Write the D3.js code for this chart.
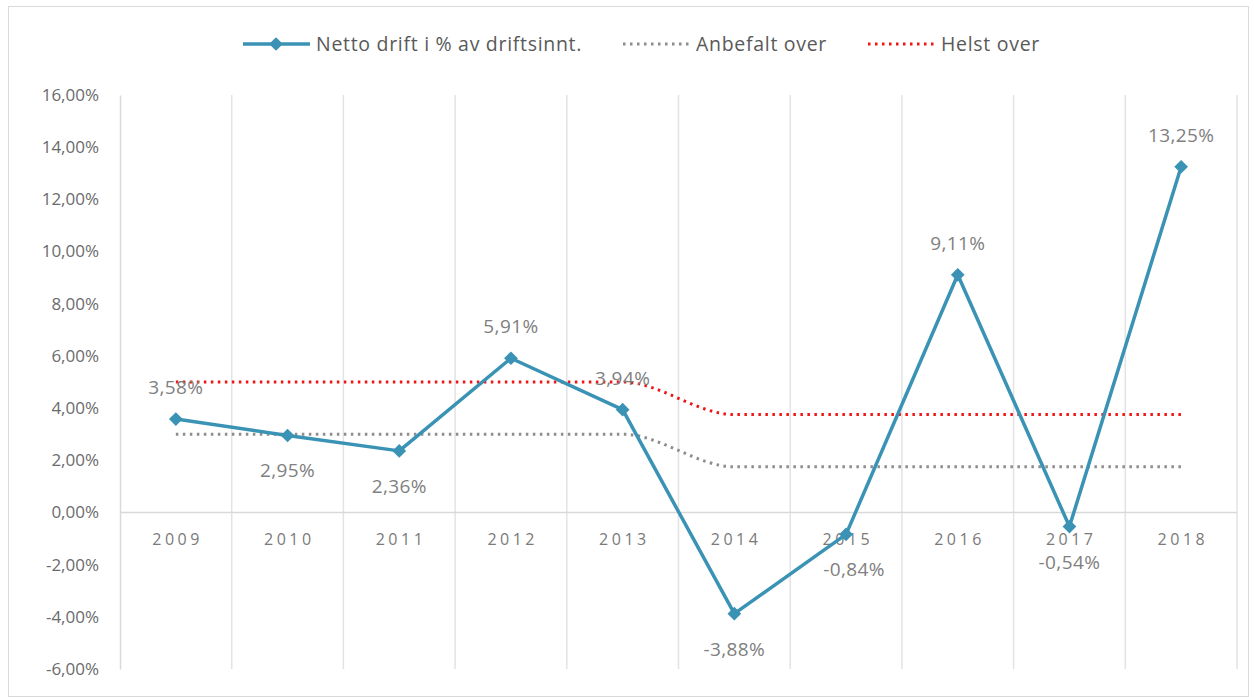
<!DOCTYPE html>
<html lang="no">
<head>
  <meta charset="UTF-8">
  <title>Netto drift</title>
  <script src="https://d3js.org/d3.v7.min.js"></script>
  <style>
    body { margin: 0; background: #fff; font-family: "Open Sans", sans-serif; }
    .tick-label { fill: #6b6b6b; font-size: 17px; font-family: "Open Sans", sans-serif; }
    .x-label { fill: #7a7a7a; font-size: 16px; letter-spacing: 3.5px; }
    .data-label { fill: #808080; font-size: 19px; letter-spacing: 0.4px; text-anchor: middle; }
    .legend-text { fill: #595959; font-size: 19.5px; letter-spacing: 0.7px; }
  </style>
</head>
<body>
  <svg id="chart" width="1254" height="697"></svg>
  <script>
    const years = ["2009", "2010", "2011", "2012", "2013", "2014", "2015", "2016", "2017", "2018"];
    const netto = [3.58, 2.95, 2.36, 5.91, 3.94, -3.88, -0.84, 9.11, -0.54, 13.25];
    const anbefalt = [3, 3, 3, 3, 3, 1.75, 1.75, 1.75, 1.75, 1.75];
    const helst = [5, 5, 5, 5, 5, 3.75, 3.75, 3.75, 3.75, 3.75];
    const labelSide = ["above", "below", "below", "above", "above", "below", "below", "above", "below", "above"];
    const yTicks = [16, 14, 12, 10, 8, 6, 4, 2, 0, -2, -4, -6];
    const legendNames = ["Netto drift i % av driftsinnt.", "Anbefalt over", "Helst over"];

    const fmt = v => v.toFixed(2).replace(".", ",") + "%";

    const svg = d3.select("#chart");
    const margin = { left: 120, right: 1237, top: 95, bottom: 669 };

    // chart border
    svg.append("rect")
      .attr("x", 8.5).attr("y", 6.5)
      .attr("width", 1240).attr("height", 690)
      .attr("fill", "none").attr("stroke", "#d9d9d9");

    const x = d3.scaleBand().domain(years).range([margin.left, margin.right]);
    const y = d3.scaleLinear().domain([-6, 16]).range([margin.bottom, margin.top]);
    const cx = d => x(d) + x.bandwidth() / 2;

    // vertical gridlines between categories
    svg.append("g").selectAll("line")
      .data(years)
      .enter().append("line")
      .attr("x1", d => x(d) + x.bandwidth())
      .attr("x2", d => x(d) + x.bandwidth())
      .attr("y1", margin.top).attr("y2", margin.bottom)
      .attr("stroke", "#e3e3e3").attr("stroke-width", 1.5);

    // y axis
    const yAxis = svg.append("g")
      .attr("transform", `translate(${margin.left},0)`)
      .call(d3.axisLeft(y).tickValues(yTicks).tickSize(0).tickPadding(21).tickFormat(fmt))
      .attr("font-family", null).attr("font-size", null);
    yAxis.select(".domain").attr("stroke", "#d9d9d9").attr("stroke-width", 1.5);
    yAxis.selectAll("text").attr("class", "tick-label");

    // zero line
    svg.append("line")
      .attr("x1", margin.left).attr("x2", margin.right)
      .attr("y1", y(0)).attr("y2", y(0))
      .attr("stroke", "#d9d9d9").attr("stroke-width", 1.5);

    // x labels
    svg.append("g").selectAll("text")
      .data(years).enter().append("text")
      .attr("class", "x-label")
      .attr("x", d => cx(d) + 1.75).attr("y", y(0) + 33)
      .attr("text-anchor", "middle")
      .text(d => d);

    const smooth = d3.line()
      .x((d, i) => cx(years[i]))
      .y(d => y(d))
      .curve(d3.curveMonotoneX);

    svg.append("path")
      .datum(anbefalt)
      .attr("d", smooth)
      .attr("fill", "none").attr("stroke", "#8c8c8c")
      .attr("stroke-width", 3).attr("stroke-dasharray", "2.5 4.5");

    svg.append("path")
      .datum(helst)
      .attr("d", smooth)
      .attr("fill", "none").attr("stroke", "#f01414")
      .attr("stroke-width", 3).attr("stroke-dasharray", "2.5 4.5");

    const blue = "#3a93b5";
    const straight = d3.line().x((d, i) => cx(years[i])).y(d => y(d));
    svg.append("path")
      .datum(netto)
      .attr("d", straight)
      .attr("fill", "none").attr("stroke", blue)
      .attr("stroke-width", 3.5).attr("stroke-linejoin", "round");

    const diamond = d3.symbol().type(d3.symbolDiamond2).size(120);
    svg.append("g").selectAll("path")
      .data(netto).enter().append("path")
      .attr("d", diamond)
      .attr("transform", (d, i) => `translate(${cx(years[i])},${y(d)})`)
      .attr("fill", blue);

    // data labels
    svg.append("g").selectAll("text")
      .data(netto).enter().append("text")
      .attr("class", "data-label")
      .attr("x", (d, i) => cx(years[i]) + (years[i] === "2015" ? 8 : 0))
      .attr("y", (d, i) => y(d) + (labelSide[i] === "above" ? -25 : 42))
      .text(fmt);

    // legend
    const legend = svg.append("g");
    const lx = [243, 623, 868];
    const legendStyle = [
      { stroke: blue, dash: null, w: 3.5 },
      { stroke: "#8c8c8c", dash: "2.5 4.5", w: 3 },
      { stroke: "#f01414", dash: "2.5 4.5", w: 3 }
    ];
    legendNames.forEach((name, i) => {
      const s = legendStyle[i];
      legend.append("line")
        .attr("x1", lx[i]).attr("x2", lx[i] + 67)
        .attr("y1", 44).attr("y2", 44)
        .attr("stroke", s.stroke).attr("stroke-width", s.w)
        .attr("stroke-dasharray", s.dash);
      if (i === 0) {
        legend.append("path")
          .attr("d", diamond)
          .attr("transform", `translate(${lx[i] + 33},44)`)
          .attr("fill", blue);
      }
      legend.append("text")
        .attr("class", "legend-text")
        .attr("x", lx[i] + 73).attr("y", 51)
        .text(name);
    });
  </script>
</body>
</html>
